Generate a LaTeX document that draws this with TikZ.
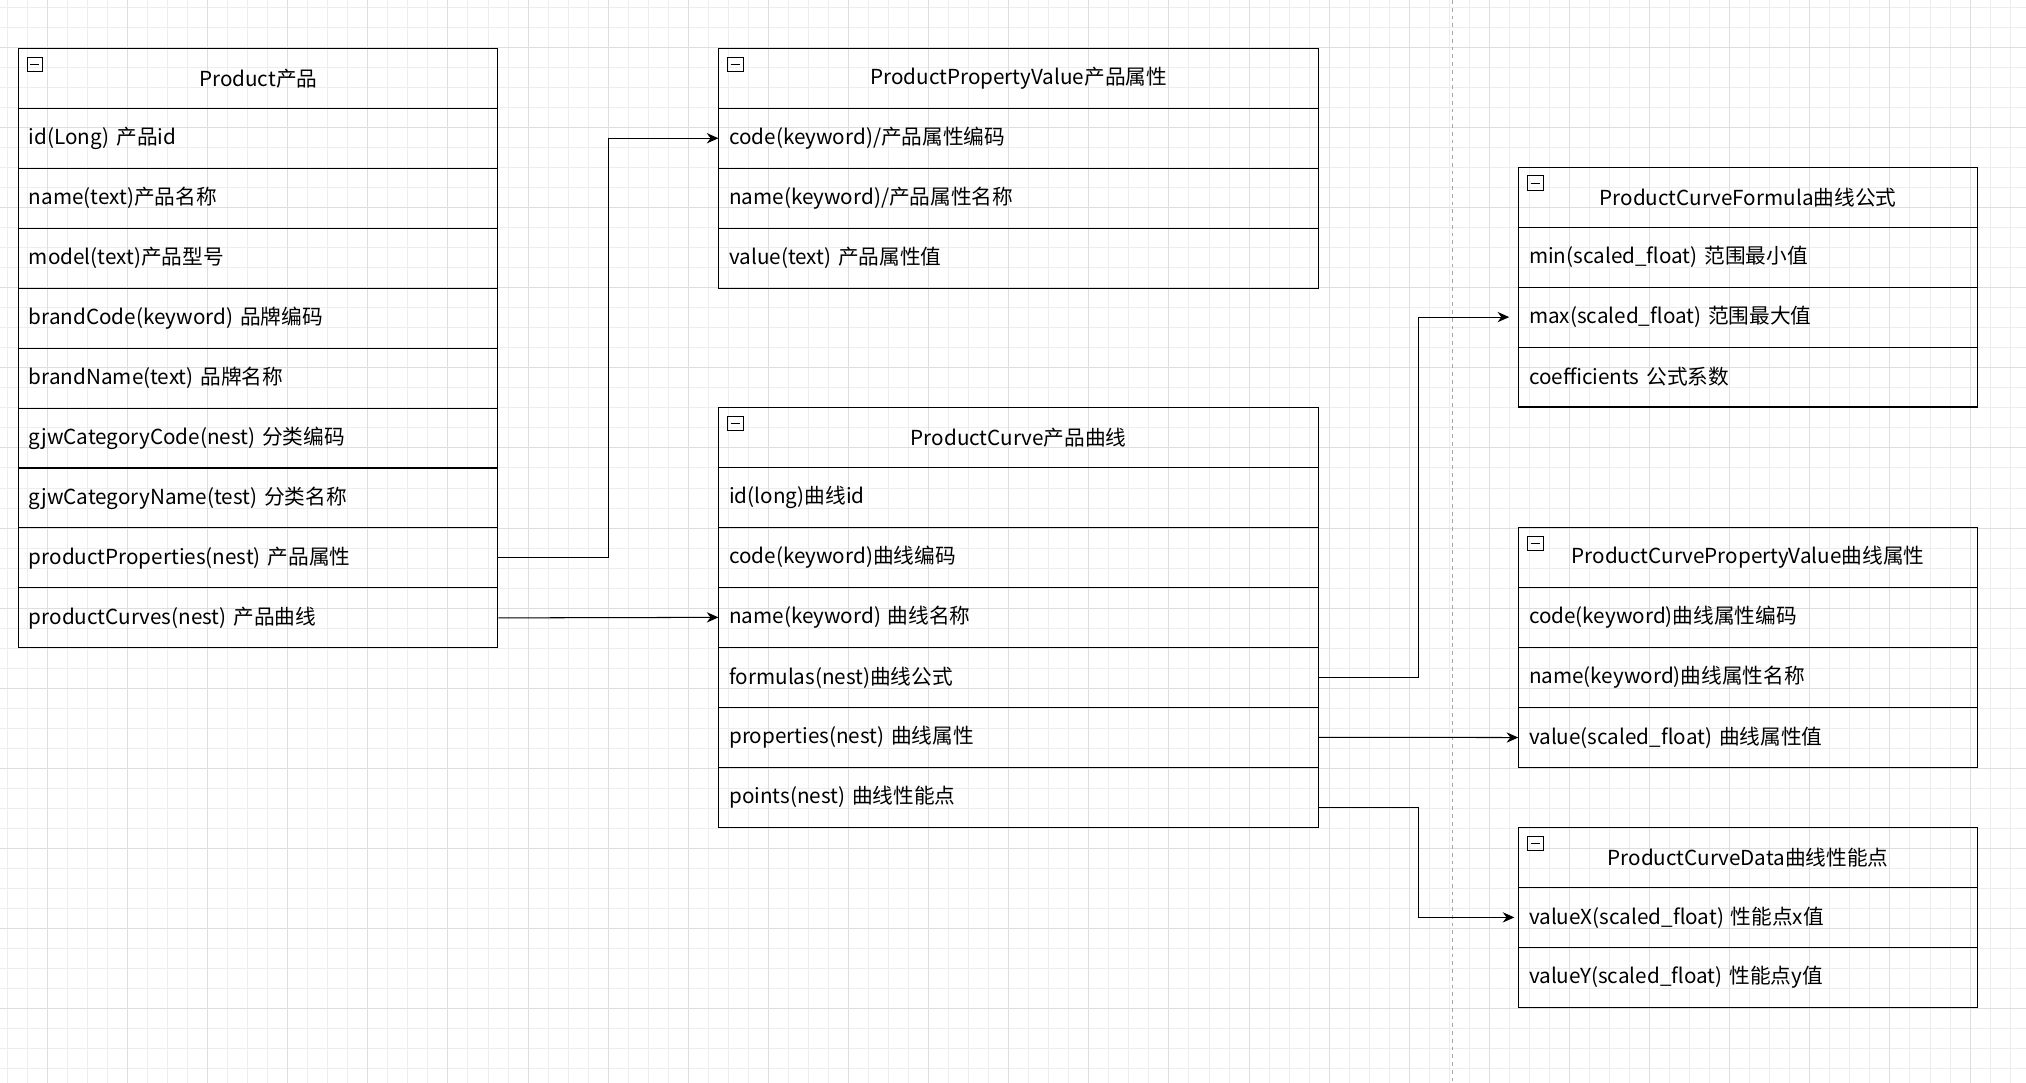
\documentclass[tikz,border=0pt]{standalone}
\usepackage{fontspec}
\setmainfont{Noto Sans CJK SC}
\usetikzlibrary{arrows.meta}
\tikzset{
  row/.style={rectangle,draw=black,thick,anchor=north west,minimum height=46.4pt,
    inner xsep=8pt,align=left,font=\fontsize{16}{19}\selectfont},
  head/.style={row,align=center},
  link/.style={thick,-{Stealth[length=9pt,width=8pt]}},
}
% entity box: name, x, y, width, title, rows
\newcommand{\entity}[6]{%
  \node[head,minimum width=#4pt,text width=#4pt-16pt] (#1-0) at (#2,#3) {#5};
  \draw[thin] (#2+7,#3+7) rectangle (#2+19,#3+18) (#2+9.5,#3+12.5) -- (#2+16.5,#3+12.5);
  \foreach \t [count=\i] in {#6}
    \node[row,minimum width=#4pt,text width=#4pt-16pt] (#1-\i) at (#2,#3+46.4*\i) {\t};
}
\begin{document}
\begin{tikzpicture}[x=1pt,y=-1pt]
  \useasboundingbox (0,0) rectangle (1568,838);
  % background grid
  \fill[white] (0,0) rectangle (1568,838);
  \foreach \gx in {5.5,21,...,1568} \draw[black!7] (\gx,0) -- (\gx,838);
  \foreach \gy in {5.5,21,...,838} \draw[black!7] (0,\gy) -- (1568,\gy);
  \foreach \gx in {36.5,98.5,...,1568} \draw[black!13] (\gx,0) -- (\gx,838);
  \foreach \gy in {36.5,98.5,...,838} \draw[black!13] (0,\gy) -- (1568,\gy);
  \draw[black!35,dashed] (1124,0) -- (1124,838);

  % entities
  \entity{prod}{14}{37}{371}{Product产品}{id(Long) 产品id,name(text)产品名称,model(text)产品型号,
    brandCode(keyword) 品牌编码,brandName(text) 品牌名称,gjwCategoryCode(nest) 分类编码,
    gjwCategoryName(test) 分类名称,productProperties(nest) 产品属性,productCurves(nest) 产品曲线}
  \entity{ppv}{556}{37}{464}{ProductPropertyValue产品属性}{code(keyword)/产品属性编码,
    name(keyword)/产品属性名称,value(text) 产品属性值}
  \entity{curve}{556}{315}{464}{ProductCurve产品曲线}{id(long)曲线id,code(keyword)曲线编码,
    name(keyword) 曲线名称,formulas(nest)曲线公式,properties(nest) 曲线属性,points(nest) 曲线性能点}
  \entity{formula}{1175}{129}{355}{ProductCurveFormula曲线公式}{min(scaled\_float) 范围最小值,
    max(scaled\_float) 范围最大值,coefficients 公式系数}
  \entity{cpv}{1175}{408}{355}{ProductCurvePropertyValue曲线属性}{code(keyword)曲线属性编码,
    name(keyword)曲线属性名称,value(scaled\_float) 曲线属性值}
  \entity{data}{1175}{640}{355}{ProductCurveData曲线性能点}{valueX(scaled\_float) 性能点x值,
    valueY(scaled\_float) 性能点y值}

  % links
  \draw[link] (prod-8.east) -- ++(85,0) |- (ppv-1.west);
  \draw[link] (prod-9.east) -- (curve-3.west);
  \draw[link] (curve-4.east) -- ++(77,0) |- ([xshift=-7pt]formula-2.west);
  \draw[link] (curve-5.east) -- (cpv-3.west);
  \draw[link] ([yshift=-8pt]curve-6.east) -- ++(77,0) |- ([xshift=-3pt]data-1.west);
\end{tikzpicture}
\end{document}
